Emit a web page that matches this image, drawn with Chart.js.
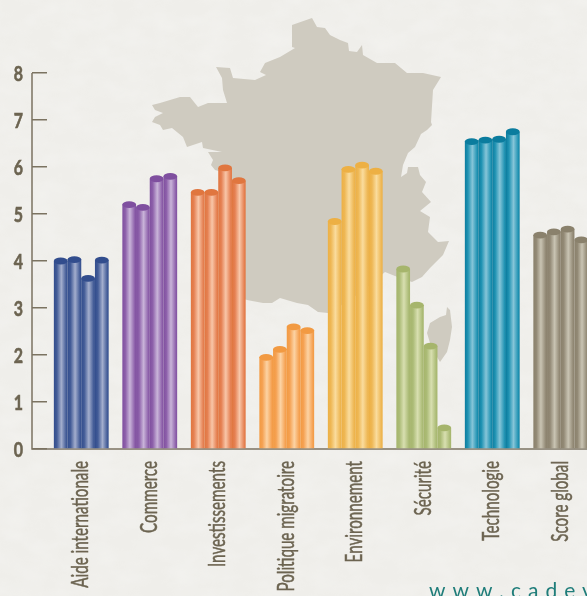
<!DOCTYPE html>
<html lang="fr">
<head>
<meta charset="utf-8">
<title>Score par thème</title>
<script src="https://cdn.jsdelivr.net/npm/chart.js@4"></script>
<style>
  html, body { margin: 0; padding: 0; width: 587px; height: 596px; overflow: hidden; background: #efeeea; }
  #wrap { position: relative; width: 587px; height: 596px; overflow: hidden; }
  #paper { position: absolute; left: 0; top: 0; }
  #chart { position: absolute; left: 0; top: 0; }
  #site { position: absolute; left: 429px; top: 577px; font: 21px Lato, sans-serif; letter-spacing: 7px; color: #1f7d7a; white-space: nowrap; }
</style>
</head>
<body>
<div id="wrap">
  <svg id="paper" width="587" height="596">
    <filter id="grain"><feTurbulence type="fractalNoise" baseFrequency="0.035 0.06" numOctaves="3" seed="4"/>
      <feColorMatrix values="0 0 0 0 1  0 0 0 0 1  0 0 0 0 1  0 0 0 1.1 -0.35"/></filter>
    <rect width="587" height="596" filter="url(#grain)" opacity="0.3"/>
  </svg>
  <canvas id="chart" width="600" height="596"></canvas>
  <div id="site">www.cadev</div>
</div>
<script>
const categories = ['Aide internationale', 'Commerce', 'Investissements', 'Politique migratoire', 'Environnement', 'Sécurité', 'Technologie', 'Score global'];
const serie1 = [4.0, 5.2, 5.46, 1.95, 4.84, 3.83, 6.54, 4.55];
const serie2 = [4.03, 5.14, 5.46, 2.12, 5.95, 3.06, 6.57, 4.62];
const serie3 = [3.63, 5.75, 5.98, 2.6, 6.04, 2.19, 6.59, 4.68];
const serie4 = [4.02, 5.8, 5.71, 2.52, 5.91, 0.45, 6.75, 4.45];
const yTicks = [0, 1, 2, 3, 4, 5, 6, 7, 8];

// cylinder colours per category: edge, highlight, cap
const edgeColors = ['#435c97', '#8d60aa', '#e58052', '#f5a152', '#eeb754', '#abbb76', '#2093b3', '#928975'];
const lightColors = ['#a3aecd', '#c9b4d9', '#f8c6a8', '#fcd3a4', '#fadc9d', '#d8dfb0', '#86c5d8', '#c9c4b3'];
const capColors = ['#324d8d', '#7f4f9f', '#e0763f', '#f29a42', '#edb044', '#a6b56c', '#0b7c9e', '#8a816c'];

const textColor = '#6c6451';
const axisColor = '#7b7361';

// outline of France behind the bars
const mapOutline = [[152,105],[160,103],[170,100],[180,97],[190,97],[198,107],[208,103],[227,103],[223,90],[222,78],[216,67],[230,68],[233,78],[255,80],[266,75],[260,72],[265,63],[280,57],[295,48],[292,47],[292,25],[312,18],[317,27],[325,28],[330,35],[340,40],[348,43],[349,51],[357,52],[362,45],[363,55],[377,63],[383,63],[395,63],[407,73],[423,73],[441,77],[433,90],[431,122],[432,125],[427,130],[421,134],[415,147],[408,153],[403,165],[401,177],[407,173],[408,167],[418,167],[420,175],[426,182],[422,192],[431,202],[420,211],[430,217],[428,232],[438,242],[449,241],[443,255],[430,268],[422,277],[412,282],[400,278],[385,272],[370,285],[350,300],[328,313],[318,312],[308,305],[297,303],[280,298],[272,303],[263,303],[247,300],[235,296],[228,280],[232,240],[240,225],[228,200],[222,172],[215,170],[211,165],[213,160],[208,152],[222,152],[203,148],[202,142],[187,147],[183,137],[172,128],[163,130],[160,125],[152,122],[155,117],[163,113],[155,110]];
const corsica = [[447,307],[450,310],[452,327],[450,340],[447,352],[440,362],[434,352],[430,343],[427,333],[430,323],[440,317],[446,315]];

function drawShape(ctx, pts) {
  ctx.beginPath();
  pts.forEach((p, i) => i ? ctx.lineTo(p[0], p[1]) : ctx.moveTo(p[0], p[1]));
  ctx.closePath();
  ctx.fill();
}

// gradient across one bar, worked out from the x scale
function barGradient(c) {
  const chart = c.chart;
  const xs = chart.scales.x;
  if (!xs) return edgeColors[c.dataIndex];
  const w = (xs.getPixelForValue(1) - xs.getPixelForValue(0)) * 0.8 / 4;
  const left = xs.getPixelForValue(c.dataIndex) + (c.datasetIndex - 2) * w;
  if (!isFinite(left) || !isFinite(w)) return edgeColors[c.dataIndex];
  const g = chart.ctx.createLinearGradient(left, 0, left + w, 0);
  g.addColorStop(0, capColors[c.dataIndex]);
  g.addColorStop(0.22, edgeColors[c.dataIndex]);
  g.addColorStop(0.55, lightColors[c.dataIndex]);
  g.addColorStop(0.9, edgeColors[c.dataIndex]);
  g.addColorStop(1, capColors[c.dataIndex]);
  return g;
}

const backdrop = {
  id: 'backdrop',
  beforeDatasetsDraw(chart) {
    const ctx = chart.ctx;
    const y = chart.scales.y;
    ctx.save();
    ctx.fillStyle = '#cfcbc0';
    drawShape(ctx, mapOutline);
    drawShape(ctx, corsica);
    ctx.strokeStyle = axisColor;
    ctx.lineWidth = 1.5;
    ctx.beginPath();
    ctx.moveTo(32, y.getPixelForValue(8));
    ctx.lineTo(32, y.getPixelForValue(0));
    ctx.lineTo(chart.width, y.getPixelForValue(0));
    ctx.stroke();
    ctx.restore();
  }
};

// round tops of the cylinders
const caps = {
  id: 'caps',
  afterDatasetDraw(chart, args) {
    const ctx = chart.ctx;
    ctx.save();
    args.meta.data.forEach((bar, i) => {
      ctx.fillStyle = capColors[i];
      ctx.beginPath();
      ctx.ellipse(bar.x, bar.y, bar.width / 2, 3.4, 0, 0, Math.PI * 2);
      ctx.fill();
    });
    ctx.restore();
  }
};

// no narrow font is installed, so tick labels are squeezed by hand
const narrowLabels = {
  id: 'narrowLabels',
  afterDraw(chart) {
    const ctx = chart.ctx;
    const xs = chart.scales.x;
    const ys = chart.scales.y;
    ctx.save();
    ctx.fillStyle = textColor;
    ctx.strokeStyle = textColor;
    ctx.textAlign = 'right';
    ctx.textBaseline = 'alphabetic';

    ctx.font = '23px Lato, sans-serif';
    ctx.lineWidth = 0.5;
    categories.forEach((label, i) => {
      ctx.save();
      ctx.translate(xs.getPixelForValue(i) + 7, ys.getPixelForValue(0) + 12);
      ctx.rotate(-Math.PI / 2);
      ctx.scale(0.66, 1);
      ctx.fillText(label, 0, 0);
      ctx.strokeText(label, 0, 0);
      ctx.restore();
    });

    ctx.font = 'bold 21px Lato, sans-serif';
    ctx.lineWidth = 0.6;
    yTicks.forEach(v => {
      ctx.save();
      ctx.translate(23, ys.getPixelForValue(v) + 8);
      ctx.scale(0.76, 1);
      ctx.fillText(String(v), 0, 0);
      ctx.strokeText(String(v), 0, 0);
      ctx.restore();
    });
    ctx.restore();
  }
};

function makeDataset(values) {
  return { data: values, backgroundColor: barGradient, borderWidth: 0, categoryPercentage: 0.8, barPercentage: 1 };
}

new Chart(document.getElementById('chart').getContext('2d'), {
  type: 'bar',
  data: {
    labels: categories,
    datasets: [makeDataset(serie1), makeDataset(serie2), makeDataset(serie3), makeDataset(serie4)]
  },
  plugins: [backdrop, caps, narrowLabels],
  options: {
    responsive: false,
    animation: false,
    layout: { padding: { top: 73, right: 5, left: 0, bottom: 0 }, autoPadding: false },
    plugins: { legend: { display: false }, tooltip: { enabled: false } },
    scales: {
      x: {
        afterFit(scale) { scale.height = 147; },
        grid: { display: false },
        border: { display: false },
        ticks: { display: false }
      },
      y: {
        min: 0,
        max: 8,
        afterFit(scale) { scale.width = 47; },
        afterBuildTicks(scale) { scale.ticks = yTicks.map(v => ({ value: v })); },
        border: { display: false },
        grid: { drawOnChartArea: false, drawTicks: true, tickLength: 15, color: axisColor, lineWidth: 1.5 },
        ticks: { display: false }
      }
    }
  }
});
</script>
</body>
</html>
